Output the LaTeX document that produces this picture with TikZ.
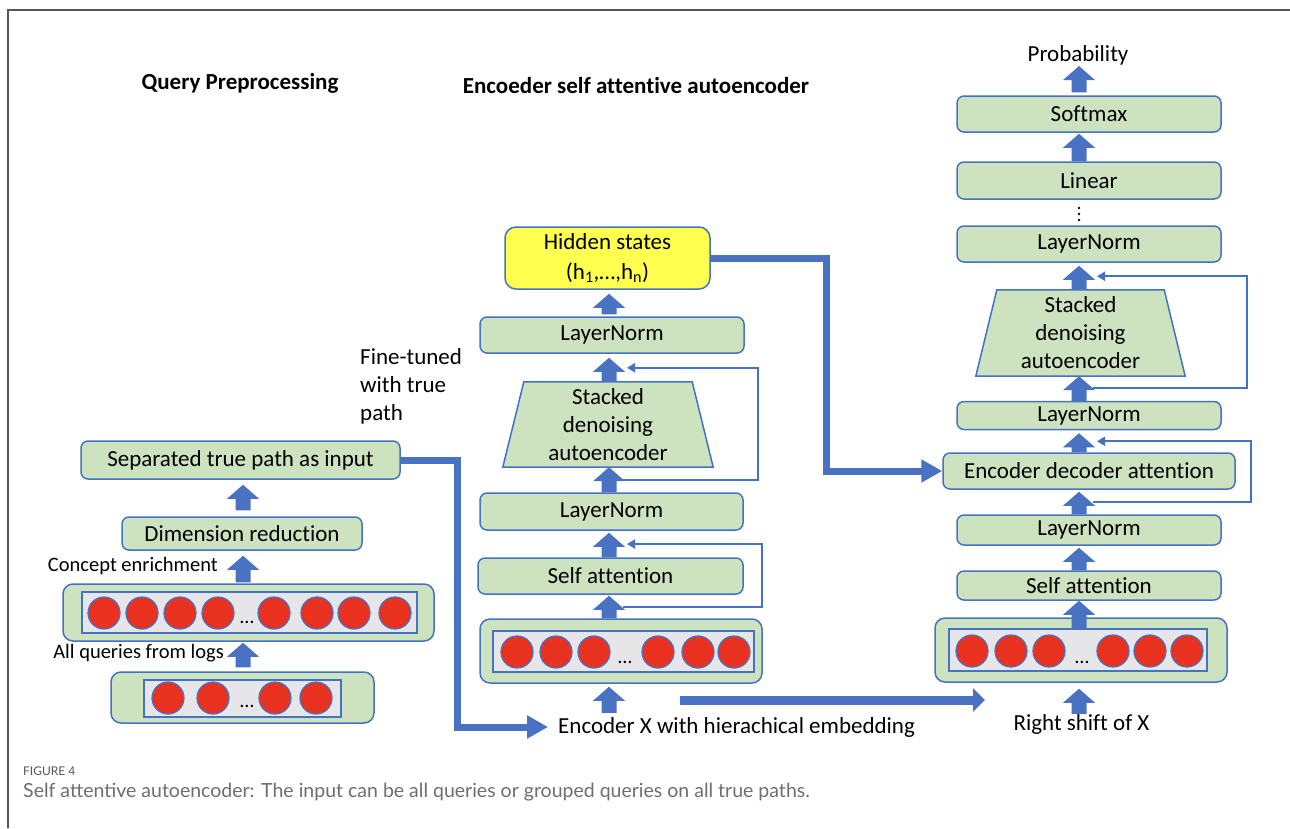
\documentclass[tikz,border=0pt]{standalone}
\usepackage{fontspec}
\setmainfont{Carlito}[Ligatures=NoCommon]
\newfontfamily\capfont{Lato}
\usetikzlibrary{calc,arrows.meta,backgrounds}

\definecolor{boxgreen}{HTML}{CDE2BF}
\definecolor{edgeblue}{HTML}{4472C4}
\definecolor{flowblue}{HTML}{4A72C2}
\definecolor{dotred}{HTML}{E8321F}
\definecolor{rowgray}{HTML}{E6E6E8}
\definecolor{hidyellow}{HTML}{FFFF50}
\definecolor{framegray}{HTML}{555555}
\definecolor{capgray}{HTML}{6E6E6E}

% upward block arrow: #1 = base point, #2 = tip point (x taken from #1)
\newcommand\blkarrow[2]{%
  \fill[flowblue] let \p1=#1, \p2=#2 in
    (\x1-7.5pt,\y1) -- (\x1-7.5pt,\y2-14pt) -- (\x1-16pt,\y2-14pt) -- (\x1,\y2)
    -- (\x1+16pt,\y2-14pt) -- (\x1+7.5pt,\y2-14pt) -- (\x1+7.5pt,\y1) -- cycle;}

\tikzset{
  lbl/.style={font=\fontsize{23}{28}\selectfont, inner sep=0pt},
  note/.style={font=\fontsize{20.5}{24}\selectfont, inner sep=0pt},
  title/.style={font=\bfseries\fontsize{23}{28}\selectfont, inner sep=0pt},
  boxgr/.style={draw=edgeblue, line width=1.5pt, fill=boxgreen, rounded corners=7pt,
    inner sep=0pt, font=\fontsize{23}{28}\selectfont},
  trapbox/.style={inner sep=0pt, align=center, font=\fontsize{23}{28}\selectfont},
  trapdraw/.style={draw=edgeblue, line width=1.5pt, fill=boxgreen},
  rowout/.style={draw=edgeblue, line width=1.5pt, fill=boxgreen, rounded corners=10pt, inner sep=0pt},
  rowin/.style={draw=edgeblue, line width=1.2pt, fill=rowgray, inner sep=0pt},
  dot/.style={circle, draw=edgeblue, line width=1.2pt, fill=dotred, minimum size=32pt, inner sep=0pt},
  ell/.style={font=\fontsize{20}{24}\selectfont, inner sep=0pt, anchor=base},
  resid/.style={draw=edgeblue, line width=2pt, line join=miter, -{Triangle[length=8pt,width=9pt]}},
  flow/.style={draw=flowblue, line width=7pt, line join=miter},
}

\begin{document}
\begin{tikzpicture}[x=1pt,y=-1pt]
\useasboundingbox (0,0) rectangle (1290,828);

% figure frame
\draw[framegray, line width=1.3pt] (8,828) -- (8,10) -- (1290,10);

% column axes
\coordinate (lx) at (243,0);
\coordinate (mx) at (609,0);
\coordinate (rx) at (1079,0);

% ---------- query preprocessing ----------
\node[title] (qp) at (240,83) {Query Preprocessing};
\node[boxgr, minimum width=319pt, minimum height=38pt] (sep) at (240.5,460) {Separated true path as input};
\node[boxgr, minimum width=240pt, minimum height=33pt] (dim) at (242,533.5) {Dimension reduction};
\node[rowout, minimum width=371pt, minimum height=57pt] (lrow) at (248.5,612.5) {};
\node[rowin, minimum width=335pt, minimum height=41pt] (lrowin) at (249.5,612.5) {};
\foreach \cx [count=\i] in {104,142,180,218,274,317,354,395}
  \node[dot] (ld\i) at (\cx,613) {};
\node[ell] (lell) at (247,623) {…};
\node[rowout, minimum width=263pt, minimum height=51pt] (srow) at (242.5,697.5) {};
\node[rowin, minimum width=197pt, minimum height=37pt] (srowin) at (242.5,698.5) {};
\foreach \cx [count=\i] in {168,213,275,316}
  \node[dot] (sd\i) at (\cx,698) {};
\node[ell] (sell) at (247,707) {…};
\node[note, anchor=east] (conc) at (218,566) {Concept enrichment};
\node[note, anchor=east] (allq) at (224,653) {All queries from logs};

\blkarrow{($(srow.north -| lx)+(0,-4)$)}{($(lrow.south -| lx)+(0,1)$)}
\blkarrow{($(lrow.north -| lx)+(0,-1)$)}{($(dim.south -| lx)+(0,5)$)}
\blkarrow{($(dim.north -| lx)+(0,-6)$)}{($(sep.south -| lx)+(0,5)$)}

% ---------- encoder ----------
\node[title] (est) at (636,86) {Encoeder self attentive autoencoder};
\node[boxgr, fill=hidyellow, rounded corners=11pt, minimum width=205pt, minimum height=62pt,
      align=center, font=\fontsize{23}{30}\selectfont] (hid) at (607.5,258)
      {Hidden states\\(h\textsubscript{1},…,h\textsubscript{n})};
\node[boxgr, minimum width=264pt, minimum height=36pt] (eln2) at (612,335) {LayerNorm};
\node[trapbox, minimum width=210pt, minimum height=85pt] (sda1) at (608,424.5) {Stacked\\denoising\\autoencoder};
\node[boxgr, minimum width=263pt, minimum height=37pt] (eln1) at (611.5,511.5) {LayerNorm};
\node[boxgr, minimum width=265pt, minimum height=36pt] (esa) at (610.5,576) {Self attention};
\node[rowout, minimum width=282pt, minimum height=64pt] (erow) at (621,651) {};
\node[rowin, minimum width=261pt, minimum height=41pt] (erowin) at (623.5,651.5) {};
\foreach \cx [count=\i] in {517,556,594,658,698,734}
  \node[dot] (ed\i) at (\cx,652) {};
\node[ell] (eell) at (625,663) {…};
\node[lbl, anchor=west] (enc) at (558,727) {Encoder X with hierachical embedding};
\node[lbl, align=left, anchor=north west] (ft) at (360,348) {Fine-tuned\\with true\\path};

\blkarrow{($(enc.north -| mx)+(0,-4)$)}{($(erow.south -| mx)+(0,3)$)}
\blkarrow{(erow.north -| mx)}{($(esa.south -| mx)+(0,1)$)}
\blkarrow{(esa.north -| mx)}{($(eln1.south -| mx)+(0,2)$)}
\blkarrow{(eln1.north -| mx)}{(sda1.south -| mx)}
\blkarrow{(sda1.north -| mx)}{($(eln2.south -| mx)+(0,4)$)}
\blkarrow{($(eln2.north -| mx)+(0,-2)$)}{($(hid.south -| mx)+(0,4)$)}

\coordinate (em1) at ($(sda1.south -| mx)!0.5!(eln1.north -| mx)$);
\coordinate (em2) at ($(eln2.south -| mx)!0.5!(sda1.north -| mx)$);
\coordinate (em3) at ($(erow.north -| mx)!0.5!(esa.south -| mx)$);
\coordinate (em4) at ($(esa.north -| mx)!0.5!(eln1.south -| mx)$);
\draw[resid] ($(em1)+(14,0)$) -| ($(em2)+(149,0)$) -- ($(em2)+(18,0)$);
\draw[resid] ($(em3)+(14,0)$) -| ($(em4)+(153,0)$) -- ($(em4)+(18,0)$);

% ---------- decoder ----------
\node[lbl] (prob) at (1078,55) {Probability};
\node[boxgr, minimum width=264pt, minimum height=36pt] (smax) at (1089,114) {Softmax};
\node[boxgr, minimum width=264pt, minimum height=37pt] (lin) at (1089,180.5) {Linear};
\foreach \dy in {208,214,220} \fill (1079,\dy) circle (1.4pt);
\node[boxgr, minimum width=264pt, minimum height=36pt] (dln3) at (1089,244) {LayerNorm};
\node[trapbox, minimum width=209pt, minimum height=86pt] (sda2) at (1080.5,333) {Stacked\\denoising\\autoencoder};
\node[boxgr, minimum width=264pt, minimum height=28pt] (dln2) at (1089,415.5) {LayerNorm};
\node[boxgr, minimum width=292pt, minimum height=36pt] (encdec) at (1089,471) {Encoder decoder attention};
\node[boxgr, minimum width=264pt, minimum height=30pt] (dln1) at (1089,530) {LayerNorm};
\node[boxgr, minimum width=264pt, minimum height=29pt] (dsa) at (1089,585.5) {Self attention};
\node[rowout, minimum width=292pt, minimum height=64pt] (drow) at (1081,650) {};
\node[rowin, minimum width=258pt, minimum height=42pt] (drowin) at (1078,650) {};
\foreach \cx [count=\i] in {972,1011,1049,1113,1150,1187}
  \node[dot] (dd\i) at (\cx,651) {};
\node[ell] (dell) at (1082,663) {…};
\node[lbl] (rs) at (1081.5,724) {Right shift of X};

\blkarrow{(rs.north -| rx)}{($(drow.south -| rx)+(0,6)$)}
\blkarrow{(drowin.north -| rx)}{($(dsa.south -| rx)+(0,0)$)}
\blkarrow{(dsa.north -| rx)}{($(dln1.south -| rx)+(0,2)$)}
\blkarrow{(dln1.north -| rx)}{($(encdec.south -| rx)+(0,2)$)}
\blkarrow{(encdec.north -| rx)}{($(dln2.south -| rx)+(0,3)$)}
\blkarrow{(dln2.north -| rx)}{(sda2.south -| rx)}
\blkarrow{(sda2.north -| rx)}{($(dln3.south -| rx)+(0,3)$)}
\blkarrow{(lin.north -| rx)}{($(smax.south -| rx)+(0,1)$)}
\blkarrow{($(smax.north -| rx)+(0,-3)$)}{($(prob.south -| rx)+(0,1)$)}

\coordinate (dm1) at ($(sda2.south -| rx)!0.5!(dln2.north -| rx)$);
\coordinate (dm2) at ($(dln3.south -| rx)!0.5!(sda2.north -| rx)$);
\coordinate (dm3) at ($(encdec.south -| rx)!0.5!(dln1.north -| rx)$);
\coordinate (dm4) at ($(dln2.south -| rx)!0.5!(encdec.north -| rx)$);
\draw[resid] ($(dm1)+(14,0)$) -| ($(dm2)+(168,0)$) -- ($(dm2)+(18,0)$);
\draw[resid] ($(dm3)+(14,0)$) -| ($(dm4)+(172,0)$) -- ($(dm4)+(18,0)$);

% trapezoid outlines behind their labels
\begin{scope}[on background layer]
  \draw[trapdraw] (sda1.south west) -- (sda1.south east) -- ($(sda1.north east)+(-21,0)$) -- ($(sda1.north west)+(21,0)$) -- cycle;
  \draw[trapdraw] (sda2.south west) -- (sda2.south east) -- ($(sda2.north east)+(-21,0)$) -- ($(sda2.north west)+(21,0)$) -- cycle;
\end{scope}

% ---------- thick data-flow connectors ----------
\coordinate (jx1) at (457,0);
\coordinate (jx2) at (826,0);
\draw[flow, -{Triangle[length=21pt,width=22pt]}] (sep.east) -| (jx1 |- enc.west) -- ($(enc.west)+(-10,0)$);
\draw[flow, -{Triangle[length=21pt,width=22pt]}] (hid.east) -| (jx2 |- encdec.west) -- (encdec.west);
\coordinate (xs) at (680,700);
\coordinate (xe) at (985,700);
\draw[flow, line width=9pt, -{Triangle[length=12pt,width=23pt]}] (xs) -- (xe);

% ---------- caption ----------
\node[anchor=west, inner sep=0pt, text=framegray, font=\capfont\fontsize{12}{15}\selectfont] (fig) at (23,771) {FIGURE 4};
\node[anchor=west, inner sep=0pt, text=capgray, font=\capfont\fontsize{19.5}{23}\selectfont] (cap) at (23,792)
  {Self attentive autoencoder: The input can be all queries or grouped queries on all true paths.};
\end{tikzpicture}
\end{document}
